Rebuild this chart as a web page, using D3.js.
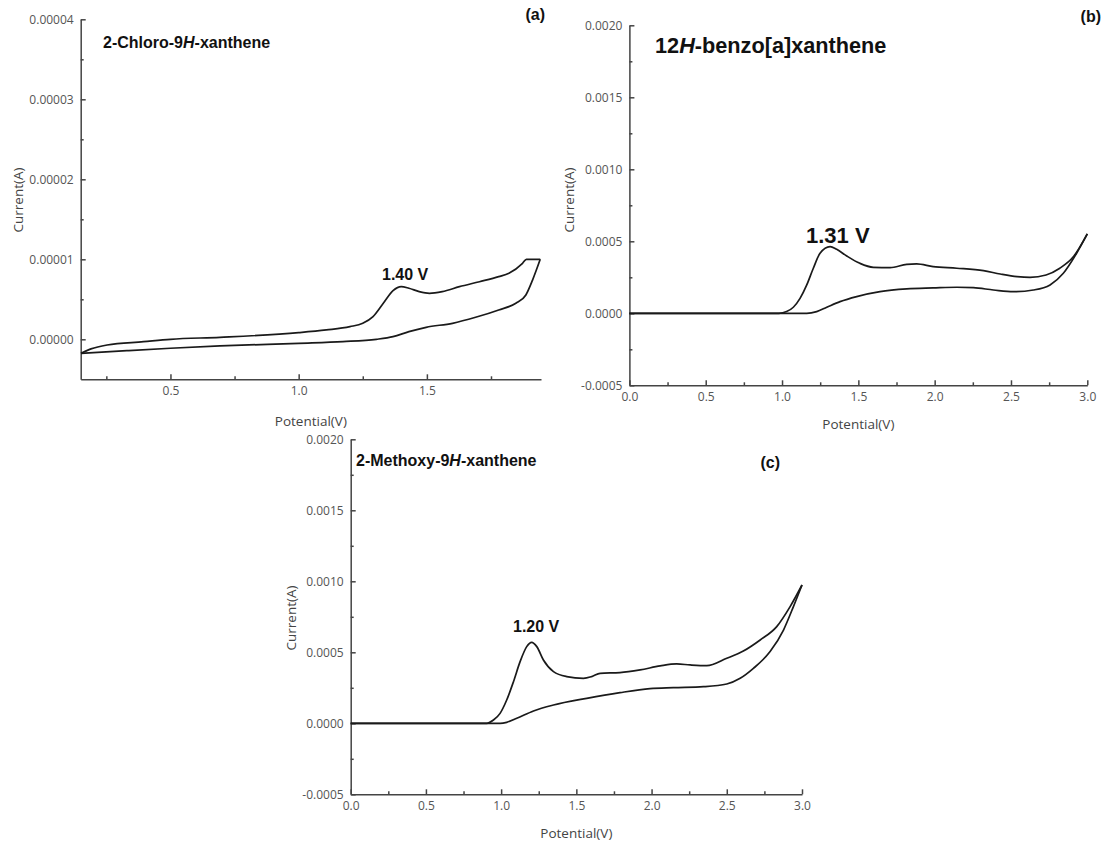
<!DOCTYPE html>
<html>
<head>
<meta charset="utf-8">
<script src="https://cdn.jsdelivr.net/npm/d3@7"></script>
<style>
  body { margin: 0; background: #fff; }
  .tick text { font-family: "Open Sans", sans-serif; font-size: 12px; fill: #555; }
  .lbl { font-family: "Open Sans", sans-serif; font-size: 13.5px; fill: #444; }
  .bold { font-family: "Liberation Sans", Arial, sans-serif; font-weight: bold; fill: #111; }
</style>
</head>
<body>
<div id="chart"></div>
<script>
// chart data (potential in V, current in A)
var chloroForward = [[0.151, -1.75e-6], [0.19, -1.2e-6], [0.253, -0.71e-6], [0.395, -0.3e-6], [0.5, 0.0], [0.693, 0.25e-6],
    [1.0, 0.83e-6], [1.108, 1.17e-6], [1.2, 1.58e-6], [1.25, 2.0e-6], [1.29, 2.83e-6], [1.33, 4.5e-6], [1.368, 6.08e-6],
    [1.40, 6.58e-6], [1.43, 6.38e-6], [1.47, 5.96e-6], [1.51, 5.75e-6], [1.56, 5.96e-6], [1.627, 6.58e-6], [1.705, 7.2e-6],
    [1.78, 7.83e-6], [1.82, 8.25e-6], [1.873, 9.5e-6], [1.888, 10e-6], [1.942, 10e-6]];
var chloroReverse = [[1.942, 10e-6], [1.912, 7.4e-6], [1.886, 5.54e-6], [1.847, 4.5e-6], [1.78, 3.67e-6], [1.69, 2.75e-6],
    [1.6, 2.0e-6], [1.497, 1.5e-6], [1.43, 0.96e-6], [1.368, 0.33e-6], [1.303, 0.0], [1.173, -0.29e-6], [1.0, -0.5e-6],
    [0.693, -0.83e-6], [0.5, -1.12e-6], [0.33, -1.42e-6], [0.151, -1.75e-6]];

var benzoForward = [[0.0, 0], [0.5, 0], [0.98, 0], [1.03, 0.12e-4], [1.074, 0.42e-4], [1.118, 1.04e-4], [1.162, 1.97e-4],
    [1.205, 3.13e-4], [1.249, 4.17e-4], [1.315, 4.63e-4], [1.358, 4.44e-4], [1.424, 3.98e-4], [1.51, 3.47e-4],
    [1.598, 3.19e-4], [1.708, 3.17e-4], [1.817, 3.40e-4], [1.882, 3.43e-4], [1.99, 3.24e-4], [2.145, 3.13e-4],
    [2.32, 2.96e-4], [2.43, 2.73e-4], [2.54, 2.55e-4], [2.625, 2.5e-4], [2.73, 2.66e-4], [2.82, 3.13e-4],
    [2.91, 3.94e-4], [3.0, 5.51e-4]];
var benzoReverse = [[3.0, 5.51e-4], [2.93, 4.17e-4], [2.843, 2.78e-4], [2.756, 1.97e-4], [2.647, 1.62e-4], [2.516, 1.5e-4],
    [2.385, 1.62e-4], [2.254, 1.78e-4], [2.145, 1.81e-4], [1.99, 1.76e-4], [1.817, 1.69e-4], [1.642, 1.5e-4],
    [1.489, 1.16e-4], [1.38, 0.81e-4], [1.293, 0.42e-4], [1.227, 0.12e-4], [1.162, 0], [0.6, 0], [0.0, 0]];

var methoxyForward = [[0.0, 0], [0.5, 0], [0.904, 0], [0.949, 0.23e-4], [0.993, 0.70e-4], [1.037, 1.64e-4], [1.082, 2.93e-4],
    [1.126, 4.34e-4], [1.17, 5.4e-4], [1.203, 5.7e-4], [1.237, 5.4e-4], [1.281, 4.46e-4], [1.348, 3.64e-4],
    [1.436, 3.29e-4], [1.547, 3.17e-4], [1.602, 3.29e-4], [1.658, 3.52e-4], [1.79, 3.57e-4], [1.924, 3.76e-4],
    [2.057, 4.04e-4], [2.167, 4.18e-4], [2.256, 4.11e-4], [2.367, 4.06e-4], [2.5, 4.58e-4], [2.61, 5.09e-4],
    [2.722, 5.87e-4], [2.832, 6.81e-4], [2.921, 8.22e-4], [3.0, 9.74e-4]];
var methoxyReverse = [[3.0, 9.74e-4], [2.943, 8.22e-4], [2.877, 6.57e-4], [2.788, 5.05e-4], [2.677, 3.87e-4], [2.589, 3.17e-4],
    [2.5, 2.77e-4], [2.345, 2.58e-4], [2.145, 2.51e-4], [1.99, 2.44e-4], [1.79, 2.16e-4], [1.569, 1.76e-4],
    [1.348, 1.29e-4], [1.215, 0.87e-4], [1.104, 0.35e-4], [1.037, 0.07e-4], [0.993, 0], [0.5, 0], [0.0, 0]];

// tick values
var xMajorA = [0.5, 1.0, 1.5], xMinorA = [0.25, 0.75, 1.25, 1.75];
var yMajorA = [0, 0.00001, 0.00002, 0.00003, 0.00004], yMinorA = [0.000005, 0.000015, 0.000025, 0.000035];
var xMajorBC = [0.0, 0.5, 1.0, 1.5, 2.0, 2.5, 3.0], xMinorBC = [0.25, 0.75, 1.25, 1.75, 2.25, 2.75];
var yMajorBC = [-0.0005, 0, 0.0005, 0.0010, 0.0015, 0.0020], yMinorBC = [-0.00025, 0.00025, 0.00075, 0.00125, 0.00175];

var svg = d3.select("#chart").append("svg")
    .attr("width", 1104)
    .attr("height", 841);

// draws one cyclic voltammogram panel
function drawPanel(p) {
    var x = d3.scaleLinear().domain(p.xDomain).range(p.xRange);
    var y = d3.scaleLinear().domain(p.yDomain).range(p.yRange);
    var g = svg.append("g");

    // major and minor ticks point inwards
    g.append("g")
        .attr("transform", "translate(0," + p.yRange[0] + ")")
        .call(d3.axisBottom(x).tickValues(p.xMajor).tickSizeInner(-5).tickSizeOuter(0).tickPadding(7)
            .tickFormat(function(d) { return d.toFixed(1); }));
    g.append("g")
        .attr("transform", "translate(0," + p.yRange[0] + ")")
        .call(d3.axisBottom(x).tickValues(p.xMinor).tickSize(-3).tickFormat(""))
        .select(".domain").remove();
    g.append("g")
        .attr("transform", "translate(" + p.xRange[0] + ",0)")
        .call(d3.axisLeft(y).tickValues(p.yMajor).tickSizeInner(-5).tickSizeOuter(0).tickPadding(7)
            .tickFormat(function(d) { return d.toFixed(p.digits); }));
    g.append("g")
        .attr("transform", "translate(" + p.xRange[0] + ",0)")
        .call(d3.axisLeft(y).tickValues(p.yMinor).tickSize(-3).tickFormat(""))
        .select(".domain").remove();

    g.selectAll(".domain, .tick line").attr("stroke", "#444").attr("stroke-width", 1.5);

    var line = d3.line()
        .x(function(d) { return x(d[0]); })
        .y(function(d) { return y(d[1]); })
        .curve(d3.curveMonotoneX);

    // each sweep is drawn left to right so the monotone curve applies
    [p.forward, p.reverse].forEach(function(arr) {
        var pts = arr.slice().sort(function(a, b) { return a[0] - b[0]; });
        g.append("path")
            .attr("d", line(pts))
            .attr("fill", "none")
            .attr("stroke", "#1a1a1a")
            .attr("stroke-width", 1.7);
    });

    // axis labels
    g.append("text")
        .attr("class", "lbl")
        .attr("text-anchor", "middle")
        .attr("x", (p.xRange[0] + p.xRange[1]) / 2).attr("y", p.xLabelY)
        .text("Potential(V)");
    g.append("text")
        .attr("class", "lbl")
        .attr("text-anchor", "middle")
        .attr("transform", "translate(" + p.yLabel[0] + "," + p.yLabel[1] + ") rotate(-90)")
        .text("Current(A)");

    // compound name with italic H
    var t = g.append("text")
        .attr("class", "bold")
        .attr("x", p.title[0]).attr("y", p.title[1])
        .attr("font-size", p.titleSize);
    t.append("tspan").text(p.name[0]);
    t.append("tspan").attr("font-style", "italic").text("H");
    t.append("tspan").text(p.name[1]);

    g.append("text")
        .attr("class", "bold")
        .attr("text-anchor", "end")
        .attr("font-size", 16)
        .attr("x", p.letter[0]).attr("y", p.letter[1])
        .text(p.letterText);

    g.append("text")
        .attr("class", "bold")
        .attr("font-size", p.peakSize)
        .attr("x", p.peak[0]).attr("y", p.peak[1])
        .text(p.peakText);
}

drawPanel({
    xDomain: [0.15, 1.945], xRange: [80.7, 541],
    yDomain: [-0.000005, 0.00004], yRange: [379.3, 19.3],
    xMajor: xMajorA, xMinor: xMinorA, yMajor: yMajorA, yMinor: yMinorA, digits: 5,
    forward: chloroForward, reverse: chloroReverse,
    xLabelY: 426, yLabel: [23, 200],
    name: ["2-Chloro-9", "-xanthene"], title: [103, 48], titleSize: 16,
    letterText: "(a)", letter: [545, 20],
    peakText: "1.40 V", peak: [382, 280], peakSize: 16
});

drawPanel({
    xDomain: [0, 3], xRange: [629.4, 1087.3],
    yDomain: [-0.0005, 0.002], yRange: [385.3, 25.3],
    xMajor: xMajorBC, xMinor: xMinorBC, yMajor: yMajorBC, yMinor: yMinorBC, digits: 4,
    forward: benzoForward, reverse: benzoReverse,
    xLabelY: 429, yLabel: [574, 200],
    name: ["12", "-benzo[a]xanthene"], title: [655, 53], titleSize: 21.7,
    letterText: "(b)", letter: [1101, 22],
    peakText: "1.31 V", peak: [806, 243], peakSize: 22
});

drawPanel({
    xDomain: [0, 3], xRange: [350.7, 802],
    yDomain: [-0.0005, 0.002], yRange: [794.3, 439.3],
    xMajor: xMajorBC, xMinor: xMinorBC, yMajor: yMajorBC, yMinor: yMinorBC, digits: 4,
    forward: methoxyForward, reverse: methoxyReverse,
    xLabelY: 838, yLabel: [296, 618],
    name: ["2-Methoxy-9", "-xanthene"], title: [356, 466], titleSize: 16,
    letterText: "(c)", letter: [780, 468],
    peakText: "1.20 V", peak: [513, 632], peakSize: 16
});
</script>
</body>
</html>
